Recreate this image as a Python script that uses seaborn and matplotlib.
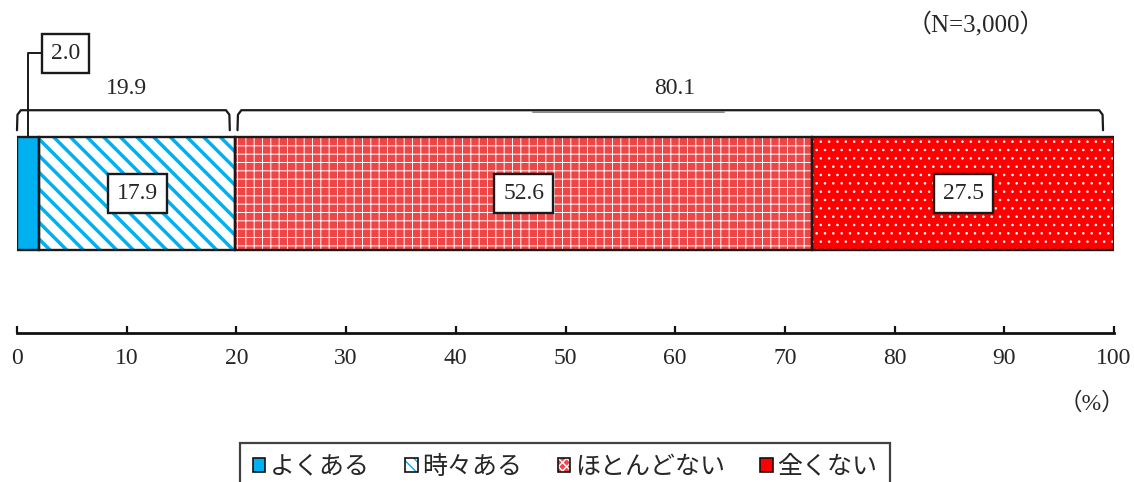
import numpy as np
import pandas as pd
import matplotlib
matplotlib.use("Agg")
import matplotlib.pyplot as plt
from matplotlib.patches import Rectangle, Patch
from matplotlib.legend_handler import HandlerTuple
import seaborn as sns

# ---- data ----
categories = ["よくある", "時々ある", "ほとんどない", "全くない"]
values = [2.0, 17.9, 52.6, 27.5]
group_labels_idx = [[0, 1], [2, 3]]   # bracket groups
xticks = [0, 10, 20, 30, 40, 50, 60, 70, 80, 90, 100]
n_label = "（N=3,000）"
unit_label = "（%）"

face_colors = ["#00B0F0", "#FFFFFF", "#EE4646", "#FF0000"]
hatch_colors = ["#00B0F0", "#00B0F0", "#FFFFFF", "#FFFFFF"]
hatches = [None, "\\\\", "++", ".."]
hatch_lw = [1.0, 2.5, 0.7, 0.6]

sns.set_theme(style="white")
plt.rcParams["font.family"] = ["Liberation Serif", "Noto Sans CJK JP", "DejaVu Sans"]

fig = plt.figure(figsize=(11.34, 4.82), dpi=100)
ax = fig.add_axes([17 / 1134, 1 - 333 / 482, 1097 / 1134, 323 / 482])

cum = np.cumsum(values)
starts = cum - np.array(values)
df = pd.DataFrame({"cat": categories, "value": values, "cum": cum, "start": starts, "row": ["all"] * 4})

# draw stacked bar: largest cumulative first, then overlay the smaller ones
order = list(range(len(categories)))[::-1]
patch_map = {}
for i in order:
    plt.rcParams["hatch.linewidth"] = hatch_lw[i]
    n_before = len(ax.patches)
    sns.barplot(data=df.iloc[[i]], x="cum", y="row", orient="h", color=face_colors[i],
                saturation=1, width=1.0, ax=ax, errorbar=None)
    p = ax.patches[n_before]
    patch_map[i] = p
    p.set_facecolor(face_colors[i])
    if hatches[i]:
        p.set_hatch(hatches[i])
        if hasattr(p, "set_hatch_linewidth"):
            p.set_hatch_linewidth(hatch_lw[i])
    p.set_edgecolor(hatch_colors[i])
    p.set_linewidth(0)

# black outlines of each segment (taken from the drawn bars)
for i in range(len(categories)):
    p = patch_map[i]
    y0, h = p.get_y(), p.get_height()
    ax.add_patch(Rectangle((starts[i], y0), values[i], h, fill=False,
                           edgecolor="#1a1a1a", linewidth=1.7, zorder=5))

# axis limits (y inverted as seaborn does for categorical y)
ax.set_xlim(0, 100)
ax.set_ylim(1.2345, -1.6239)

box_kw = dict(boxstyle="square,pad=0.38", facecolor="white", edgecolor="#1a1a1a", linewidth=1.7)
fs = 17

# value labels
for i in range(1, len(categories)):
    ax.text(starts[i] + values[i] / 2, 0.0, f"{values[i]:.1f}", ha="center", va="center",
            fontsize=fs, zorder=6, bbox=box_kw)

# small first segment: label with leader line
x_first = starts[0] + values[0] / 2
ax.plot([x_first, x_first, 2.2], [-0.5, -1.243, -1.243], color="#1a1a1a", lw=1.4, zorder=6, clip_on=False)
ax.text(3.1, -1.243, f"{values[0]:.1f}", ha="left", va="center", fontsize=fs, zorder=6,
        bbox=box_kw)

# brackets
top_y, tip_y = -0.737, -0.56
for k, idx in enumerate(group_labels_idx):
    x0 = starts[idx[0]] + (0.0 if k == 0 else 0.2)
    x1 = cum[idx[-1]] - (0.5 if k == 0 else 1.0)
    xs = [x0, x0 + 0.04, x0 + 0.35, x1 - 0.35, x1 - 0.04, x1]
    ys = [tip_y, top_y + 0.04, top_y, top_y, top_y + 0.04, tip_y]
    ax.plot(xs, ys, color="#1a1a1a", lw=1.6, clip_on=False)
    total = sum(values[j] for j in idx)
    ax.text((starts[idx[0]] + cum[idx[-1]]) / 2, -0.93, f"{total:.1f}", ha="center", va="center",
            fontsize=fs)
# faint underline under the second bracket label
mid2 = (starts[2] + cum[3]) / 2
ax.plot([mid2 - 12.9, mid2 + 4.5], [-0.718, -0.718], color="#8a8a8a", lw=1.4)

# axis styling
for s in ["top", "left", "right"]:
    ax.spines[s].set_visible(False)
ax.spines["bottom"].set_color("#111111")
ax.spines["bottom"].set_linewidth(2.0)
ax.set_xticks(xticks)
ax.set_xticklabels([str(t) for t in xticks], fontsize=fs)
ax.tick_params(axis="x", direction="in", length=5, width=1.6, color="#111111", pad=11, bottom=True)
ax.set_yticks([])
ax.set_xlabel("")
ax.set_ylabel("")
ax.grid(False)

fig.text(976 / 1134, 1 - 24 / 482, n_label, ha="center", va="center", fontsize=18)
fig.text(1092 / 1134, 1 - 403 / 482, unit_label, ha="center", va="center", fontsize=fs)

# legend
leg_hatch = [None, "\\\\\\", "xxxx", None]
handles = []
for i in range(len(categories)):
    fill_h = Patch(facecolor=face_colors[i], edgecolor=hatch_colors[i], linewidth=0, hatch=leg_hatch[i])
    edge_h = Patch(facecolor="none", edgecolor="#111111", linewidth=1.2)
    handles.append((fill_h, edge_h))
plt.rcParams["hatch.linewidth"] = 1.0
leg = fig.legend(handles, categories, loc="upper center", bbox_to_anchor=(565 / 1134, 1 - 443 / 482),
                 ncol=4, frameon=True, fancybox=False, fontsize=18, handlelength=0.5, handleheight=0.5,
                 handletextpad=0.2, columnspacing=1.4, borderpad=0.5, borderaxespad=0,
                 handler_map={tuple: HandlerTuple(ndivide=1, pad=0)})
leg.get_frame().set_edgecolor("#111111")
leg.get_frame().set_linewidth(1.6)

fig.savefig("out.png", dpi=100)
